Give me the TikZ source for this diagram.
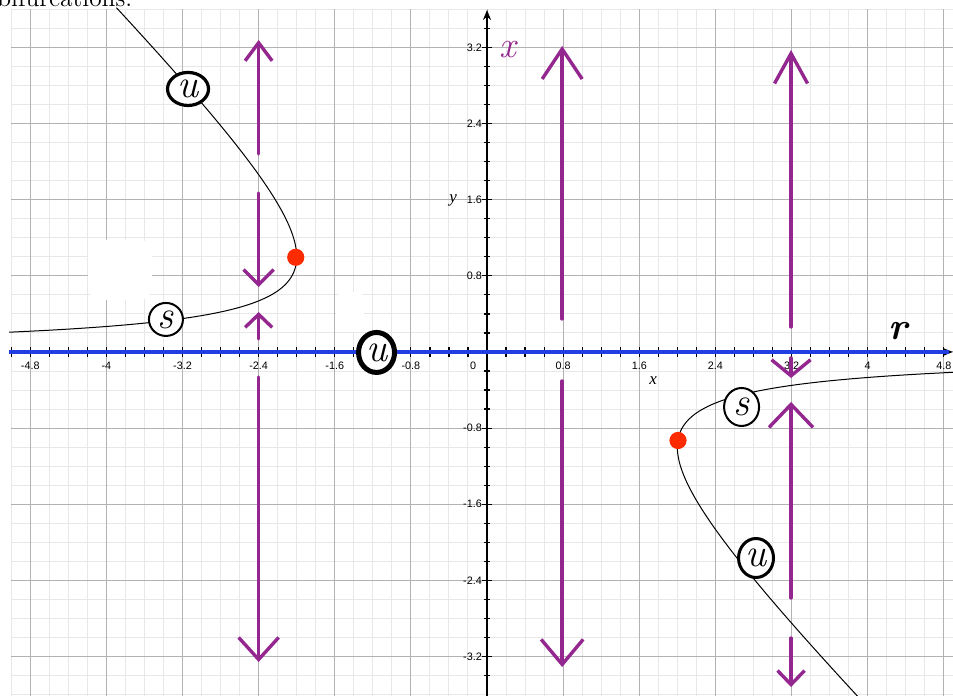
\documentclass[tikz,border=0pt]{standalone}
\usepackage{fontspec}
\usetikzlibrary{arrows.meta,shapes.geometric}
\newfontfamily\ticksf{Liberation Sans}
\newfontfamily\axisf{Liberation Serif}
\definecolor{vpurple}{HTML}{93278F}
\definecolor{vblue}{HTML}{1F3FE4}
\definecolor{vred}{HTML}{FF2B00}
\tikzset{
  gminor/.style={draw=black!9,line width=0.5pt},
  gmajor/.style={draw=black!30,line width=0.5pt},
  ticklbl/.style={font=\ticksf\fontsize{5.4}{6}\selectfont,inner sep=0pt},
  axname/.style={font=\axisf\itshape\fontsize{8.5}{9}\selectfont,inner sep=0pt},
  branch/.style={draw=black,line width=0.5pt},
  bifdot/.style={circle,fill=vred,inner sep=0pt,minimum size=8.6pt},
  fp/.style 2 args={ellipse,draw,fill=white,inner sep=0pt,minimum width=#1,minimum height=#2,font=\fontsize{20}{20}\selectfont\itshape},
  flow/.style 2 args={draw=vpurple,line width=1.7pt,line cap=round,-{Straight Barb[length=#1,width=#2]}},
}
\begin{document}
\begin{tikzpicture}[x=47.575pt,y=47.575pt]
\useasboundingbox (-5.118,-3.615) rectangle (4.897,3.699);
\clip (-5.118,-3.615) rectangle (4.897,3.699);
% line of the page above, cut off
\node[anchor=base west,inner sep=0pt,font=\fontsize{12.7}{14}\selectfont] (cap) at (-5.15,3.626) {bifurcations.};
% grid
\draw[gminor,step=0.2] (-5.001,-3.615) grid (4.897,3.601);
\draw[gmajor,step=0.8] (-5.001,-3.615) grid (4.897,3.601);
% erased patches
\fill[white,rounded corners=6pt] (-4.194,0.547) rectangle (-3.52,1.178);
\fill[white,rounded corners=4pt] (-1.587,0.21) rectangle (-1.293,0.63);
% axes and ticks
\foreach \k in {-17,...,17} \draw[line width=0.6pt] (-0.03,\k/5) -- (0.03,\k/5);
\foreach \k in {-25,...,24} \draw[line width=0.6pt] (\k/5,-0.055) -- (\k/5,0.055);
\draw[line width=1pt,-{Stealth[length=5pt,width=4pt]}] (0,-3.615) -- (0,3.594);
\draw[line width=1pt,-{Stealth[length=5pt,width=4pt]}] (-5.0,0) -- (4.895,0);
\foreach \v [count=\i] in {-3.2,-2.4,-1.6,-0.8,0.8,1.6,2.4,3.2} {
  \draw[line width=0.6pt] (-0.055,\v) -- (0.055,\v);
  \node[ticklbl,anchor=east] (yl\i) at (-0.05,\v) {\v};
}
\foreach \v [count=\i] in {-4.8,-4,-3.2,-2.4,-1.6,-0.8,0.8,1.6,2.4,3.2,4,4.8}
  \node[ticklbl] (xl\i) at (\v,-0.147) {\v};
\node[ticklbl] (xl0) at (-0.147,-0.147) {0};
\node[axname] (xn) at (1.745,-0.305) {x};
\node[axname] (yn) at (-0.357,1.597) {y};
% x = 0
\draw[vblue,line width=2pt] (-5.02,0) -- (4.85,0);
% branches r = -(x+1/x)
\draw[branch,smooth,samples=200,domain=0.2077:3.62,variable=\t] plot ({-(\t+1/\t)},{\t});
\draw[branch,smooth,samples=200,domain=0.2135:3.62,variable=\t] plot ({\t+1/\t},{-\t});
\node[bifdot] (bl) at (-2.01,0.995) {};
\node[bifdot] (br) at (2.007,-0.93) {};
% flow on the lines r = const
\foreach \r/\ya/\yb/\hl/\hw in {
    -2.4/2.081/3.279/9/13.5, -2.4/1.671/0.683/7.5/15, -2.4/0.137/0.420/6.5/13.5, -2.4/-0.263/-3.258/11/20,
    0.79/0.347/3.216/15/20, 0.79/-0.305/-3.311/12.5/21,
    3.195/0.263/3.174/15/16.5, 3.195/-0.063/-0.273/8/19.5, 3.195/-2.585/-0.525/11.5/22, 3.195/-3.006/-3.521/7/13.5}
  \draw[flow={\hl pt}{\hw pt}] (\r,\ya) -- (\r,\yb);
% stability marks
\node[fp={20.5pt}{16.5pt},line width=1.6pt] (u1) at (-3.142,2.764) {u};
\node[fp={17pt}{16.5pt},line width=1pt] (s1) at (-3.374,0.342) {s};
\node[fp={18pt}{20pt},line width=2.5pt] (u2) at (-1.161,-0.005) {u};
\node[fp={17.5pt}{19pt},line width=1pt] (s2) at (2.675,-0.578) {s};
\node[fp={17.5pt}{19.5pt},line width=1.5pt] (u3) at (2.827,-2.165) {u};
\node[text=vpurple,inner sep=0pt,font=\fontsize{18.5}{19}\selectfont\itshape] (xlab) at (0.221,3.174) {x};
\node[inner sep=0pt,font=\fontsize{19}{19}\selectfont\bfseries\itshape] (rlab) at (4.319,0.221) {r};
\end{tikzpicture}
\end{document}
